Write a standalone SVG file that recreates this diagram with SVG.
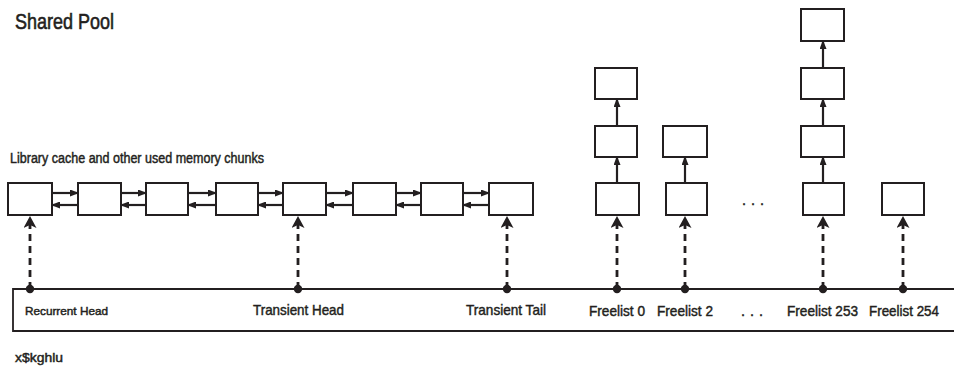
<svg xmlns="http://www.w3.org/2000/svg" width="954" height="367" viewBox="0 0 954 367">
  <style>
    .box { fill: #fff; stroke: #231f20; stroke-width: 2; }
    .link { stroke: #231f20; stroke-width: 2.2; fill: none; }
    .ptr { stroke: #231f20; stroke-width: 2.8; fill: none; stroke-dasharray: 7 5; }
    .bus { stroke: #231f20; stroke-width: 1.8; fill: none; }
    .dot { fill: #231f20; }
    text { font-family: "Liberation Sans", Arial, sans-serif; fill: #231f20; stroke: #231f20; stroke-width: 0.45; }
    .title { font-size: 22.5px; stroke-width: 0.6; }
    .lbl { font-size: 14.5px; }
    .sm { font-size: 11.5px; }
    .mid { font-size: 14px; }
  </style>
  <defs>
    <marker id="tip" markerUnits="userSpaceOnUse" markerWidth="9" markerHeight="7" refX="8" refY="3.5" orient="auto">
      <path d="M0,0 L9,3.5 L0,7 Z" fill="#231f20"/>
    </marker>
    <marker id="tipBig" markerUnits="userSpaceOnUse" markerWidth="12" markerHeight="13" refX="10" refY="6.5" orient="auto">
      <path d="M0,0 L12,6.5 L0,13 L3,6.5 Z" fill="#231f20"/>
    </marker>
  </defs>

  <text class="title" x="15" y="29" textLength="99" lengthAdjust="spacingAndGlyphs">Shared Pool</text>
  <text class="mid" x="10" y="163" textLength="254" lengthAdjust="spacingAndGlyphs">Library cache and other used memory chunks</text>

  <!-- used memory chunks chain -->
  <g id="chunk-1"><rect class="box" x="8" y="183" width="44" height="32"/></g>
  <g id="chunk-2"><rect class="box" x="78" y="183" width="43" height="32"/></g>
  <g id="chunk-3"><rect class="box" x="146" y="183" width="42" height="32"/></g>
  <g id="chunk-4"><rect class="box" x="216" y="183" width="42" height="32"/></g>
  <g id="chunk-5"><rect class="box" x="283" y="183" width="43" height="32"/></g>
  <g id="chunk-6"><rect class="box" x="353" y="183" width="43" height="32"/></g>
  <g id="chunk-7"><rect class="box" x="421" y="183" width="42" height="32"/></g>
  <g id="chunk-8"><rect class="box" x="489" y="183" width="44" height="32"/></g>

  <!-- free chunks -->
  <g id="free0-a"><rect class="box" x="596" y="183" width="43" height="32"/></g>
  <g id="free0-b"><rect class="box" x="595" y="126" width="42" height="31"/></g>
  <g id="free0-c"><rect class="box" x="595" y="68" width="42" height="31"/></g>
  <g id="free2-a"><rect class="box" x="666" y="183" width="41" height="32"/></g>
  <g id="free2-b"><rect class="box" x="663" y="126" width="44" height="31"/></g>
  <g id="free253-a"><rect class="box" x="803" y="183" width="41" height="32"/></g>
  <g id="free253-b"><rect class="box" x="801" y="126" width="43" height="31"/></g>
  <g id="free253-c"><rect class="box" x="801" y="68" width="43" height="31"/></g>
  <g id="free253-d"><rect class="box" x="801" y="9" width="43" height="32"/></g>
  <g id="free254-a"><rect class="box" x="882" y="183" width="42" height="32"/></g>

  <text class="lbl" x="742" y="205" textLength="22" lengthAdjust="spacing">. . .</text>

  <!-- x$kghlu structure -->
  <g id="kghlu">
    <path class="bus" d="M960,289 H13 V331 H960"/>
    <text class="sm" x="25" y="315" textLength="83" lengthAdjust="spacingAndGlyphs">Recurrent Head</text>
    <text class="lbl" x="253" y="315" textLength="91" lengthAdjust="spacingAndGlyphs">Transient Head</text>
    <text class="lbl" x="466" y="315" textLength="80" lengthAdjust="spacingAndGlyphs">Transient Tail</text>
    <text class="lbl" x="589" y="316" textLength="56" lengthAdjust="spacingAndGlyphs">Freelist 0</text>
    <text class="lbl" x="657" y="316" textLength="56" lengthAdjust="spacingAndGlyphs">Freelist 2</text>
    <text class="lbl" x="741" y="316" textLength="22" lengthAdjust="spacing">. . .</text>
    <text class="lbl" x="787" y="316" textLength="71" lengthAdjust="spacingAndGlyphs">Freelist 253</text>
    <text class="lbl" x="869" y="316" textLength="70" lengthAdjust="spacingAndGlyphs">Freelist 254</text>
  </g>
  <text class="sm" x="15" y="362" textLength="48" lengthAdjust="spacingAndGlyphs" style="font-size:12.5px">x$kghlu</text>

  <g id="connectors">
    <!-- forward / backward links -->
    <path class="link" marker-end="url(#tip)" d="M52,193 H78"/>
    <path class="link" marker-end="url(#tip)" d="M78,205 H52"/>
    <path class="link" marker-end="url(#tip)" d="M121,193 H146"/>
    <path class="link" marker-end="url(#tip)" d="M146,205 H121"/>
    <path class="link" marker-end="url(#tip)" d="M188,193 H216"/>
    <path class="link" marker-end="url(#tip)" d="M216,205 H188"/>
    <path class="link" marker-end="url(#tip)" d="M258,193 H283"/>
    <path class="link" marker-end="url(#tip)" d="M283,205 H258"/>
    <path class="link" marker-end="url(#tip)" d="M326,193 H353"/>
    <path class="link" marker-end="url(#tip)" d="M353,205 H326"/>
    <path class="link" marker-end="url(#tip)" d="M396,193 H421"/>
    <path class="link" marker-end="url(#tip)" d="M421,205 H396"/>
    <path class="link" marker-end="url(#tip)" d="M463,193 H489"/>
    <path class="link" marker-end="url(#tip)" d="M489,205 H463"/>

    <!-- freelist chains -->
    <path class="link" marker-end="url(#tip)" d="M617,183 V157"/>
    <path class="link" marker-end="url(#tip)" d="M617,126 V99"/>
    <path class="link" marker-end="url(#tip)" d="M685,183 V157"/>
    <path class="link" marker-end="url(#tip)" d="M823,183 V157"/>
    <path class="link" marker-end="url(#tip)" d="M823,126 V99"/>
    <path class="link" marker-end="url(#tip)" d="M823,68 V41"/>

    <!-- list head pointers -->
    <path class="ptr" marker-end="url(#tipBig)" d="M30,289 V218"/>
    <path class="ptr" marker-end="url(#tipBig)" d="M298,289 V218"/>
    <path class="ptr" marker-end="url(#tipBig)" d="M507,289 V218"/>
    <path class="ptr" marker-end="url(#tipBig)" d="M617,289 V218"/>
    <path class="ptr" marker-end="url(#tipBig)" d="M685,289 V218"/>
    <path class="ptr" marker-end="url(#tipBig)" d="M823,289 V218"/>
    <path class="ptr" marker-end="url(#tipBig)" d="M903,289 V218"/>

    <circle class="dot" cx="30" cy="289" r="4.2"/>
    <circle class="dot" cx="298" cy="289" r="4.2"/>
    <circle class="dot" cx="507" cy="289" r="4.2"/>
    <circle class="dot" cx="617" cy="289" r="4.2"/>
    <circle class="dot" cx="685" cy="289" r="4.2"/>
    <circle class="dot" cx="823" cy="289" r="4.2"/>
    <circle class="dot" cx="903" cy="289" r="4.2"/>
  </g>
</svg>
